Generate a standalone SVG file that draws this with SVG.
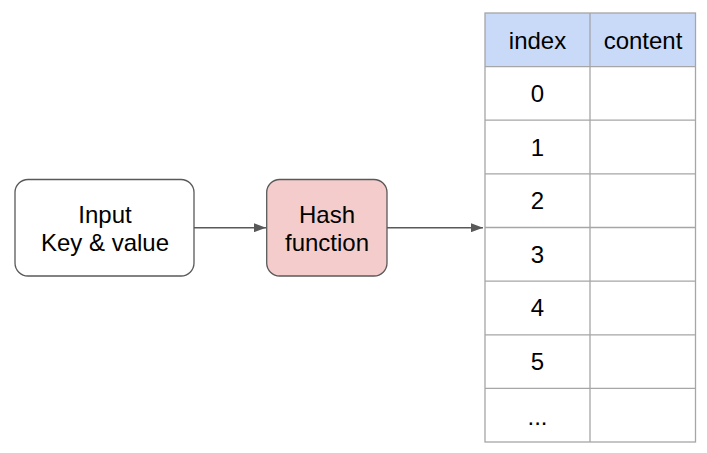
<svg xmlns="http://www.w3.org/2000/svg" width="707" height="453" viewBox="0 0 707 453">
<style>
text{font-family:"Liberation Sans",Arial,sans-serif;font-size:24px;fill:#000;text-anchor:middle}
.node{stroke:#595959;stroke-width:1.3}
.grid{stroke:#a6a6a6;stroke-width:1.3;fill:none}
.conn{stroke:#595959;stroke-width:1.6;fill:none}
</style>
<defs>
<marker id="arr" viewBox="0 0 12 9" refX="12" refY="4.5" markerWidth="12" markerHeight="9" markerUnits="userSpaceOnUse" orient="auto">
<path d="M0,0 L12,4.5 L0,9 z" fill="#595959"/>
</marker>
</defs>
<rect width="707" height="453" fill="#fff"/>
<g id="input">
<rect class="node" x="15" y="179.5" width="179" height="96.5" rx="13" fill="#fff"/>
<text x="105" y="223.3">Input</text>
<text x="105" y="251">Key &amp; value</text>
</g>
<g id="hash">
<rect class="node" x="266.7" y="179.5" width="120.3" height="96.5" rx="13" fill="#f4cccc"/>
<text x="327" y="223.3">Hash</text>
<text x="327" y="251">function</text>
</g>
<g id="table">
<rect x="485" y="13" width="210.5" height="53.6" fill="#c9daf8"/>
<rect class="grid" x="485" y="13" width="210.5" height="429"/>
<path class="grid" d="M590,13V442M485,66.6H695.5M485,120.2H695.5M485,173.9H695.5M485,227.5H695.5M485,281.1H695.5M485,334.8H695.5M485,388.4H695.5"/>
<text x="537.5" y="49">index</text>
<text x="643" y="49">content</text>
<text x="537.5" y="102">0</text>
<text x="537.5" y="155.6">1</text>
<text x="537.5" y="209.2">2</text>
<text x="537.5" y="262.8">3</text>
<text x="537.5" y="316.4">4</text>
<text x="537.5" y="370">5</text>
<text x="537.5" y="425">...</text>
</g>
<g id="connectors">
<path class="conn" d="M194,227.7H266" marker-end="url(#arr)"/>
<path class="conn" d="M387,227.7H483" marker-end="url(#arr)"/>
</g>
</svg>
